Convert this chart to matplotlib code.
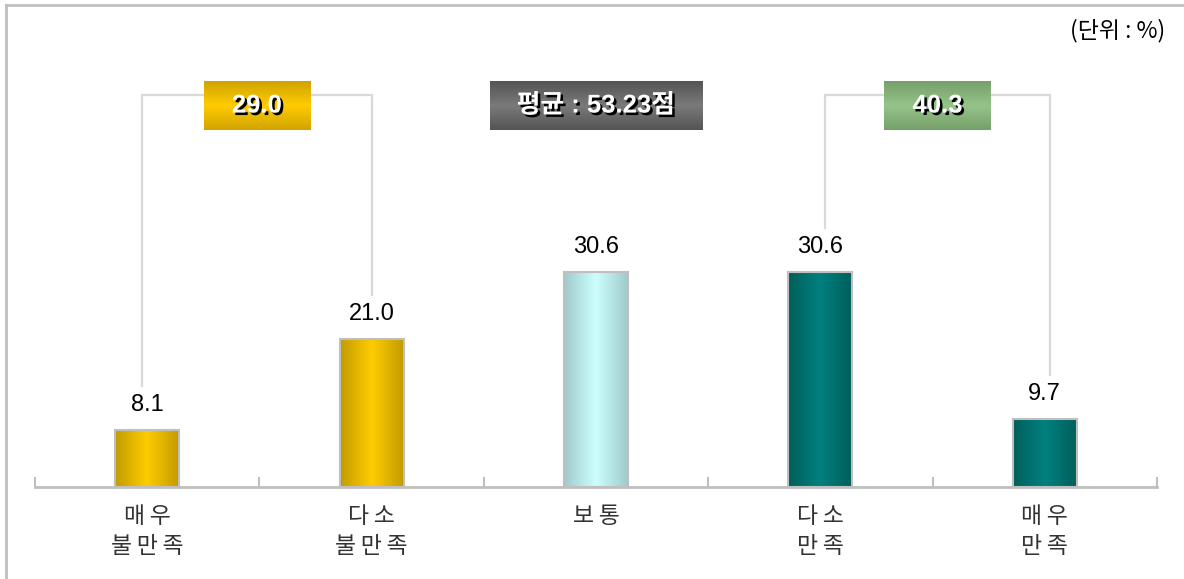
import numpy as np
import matplotlib
matplotlib.use("Agg")
import matplotlib.pyplot as plt
from matplotlib.colors import LinearSegmentedColormap
from matplotlib.lines import Line2D
import matplotlib.patheffects as pe

plt.rcParams['font.family'] = ['Liberation Sans', 'Noto Sans CJK KR', 'DejaVu Sans']

# Satisfaction distribution (%)
categories = ["매우\n불만족", "다소\n불만족", "보통", "다소\n만족", "매우\n만족"]
values = [8.1, 21.0, 30.6, 30.6, 9.7]

# Grouped totals: (first bar, last bar, total)
group_totals = [(0, 1, 29.0), (3, 4, 40.3)]
average_score = 53.23
unit_label = "(단위 : %)"

# Bar gradient colours: edge shade, centre highlight
bar_edge_colors = ['#c29b00', '#c29b00', '#9fcaca', '#005f5a', '#005f5a']
bar_mid_colors = ['#ffcc00', '#ffcc00', '#ccffff', '#008080', '#008080']

# Box gradient colours: rim shade, centre highlight
group_box_colors = [('#d0a300', '#ffcc00'), ('#769f69', '#95c489')]
avg_box_colors = ('#545454', '#7a7a7a')

W, H = 1184, 579
fig = plt.figure(figsize=(W / 100, H / 100), dpi=100)
px_per_unit = 7.03
ax = fig.add_axes([35 / W, 92 / H, 1122 / W, 477 / H])
ymax = 477 / px_per_unit
px_x = 1 / 224.4  # one pixel in x data units

x = np.arange(len(values))
bars = ax.bar(x, values, width=0.285, facecolor='none', edgecolor='#bfbfbf',
              linewidth=1.5, zorder=4)

# horizontal metallic gradient inside each bar
hgrad = np.linspace(0, 1, 256)[None, :]
for rect, c0, c1 in zip(bars, bar_edge_colors, bar_mid_colors):
    cmap = LinearSegmentedColormap.from_list('bar', [c0, c1, c0])
    x0 = rect.get_x()
    ax.imshow(hgrad, cmap=cmap, aspect='auto', interpolation='bicubic',
              extent=[x0, x0 + rect.get_width(), 0, rect.get_height()], zorder=3)

# value labels
for xi, v in zip(x, values):
    ax.text(xi, v + 2.7, f"{v:.1f}", ha='center', va='baseline',
            fontsize=17, color='black', zorder=5)

# brackets joining grouped bars
bracket_y = (487 - 95) / px_per_unit
box_h = 49 / px_per_unit
vgrad = np.linspace(0, 1, 256)[:, None]
shadow = [pe.SimplePatchShadow(offset=(1.8, -1.8), shadow_rgbFace='black', alpha=1.0),
          pe.Normal()]


def gradient_box(cx, cy, width, colors, text):
    cmap = LinearSegmentedColormap.from_list('box', [colors[0], colors[1], colors[0]])
    ax.imshow(vgrad, cmap=cmap, aspect='auto', interpolation='bicubic',
              extent=[cx - width / 2, cx + width / 2, cy - box_h / 2, cy + box_h / 2],
              zorder=6)
    ax.text(cx, cy, text, ha='center', va='center', fontsize=18.5, fontweight='bold',
            color='white', path_effects=shadow, zorder=7)


bracket_shift = [(-5, 0), (5, 5)]
for (a, b, total), cols, (sa, sb) in zip(group_totals, group_box_colors, bracket_shift):
    xa, xb = x[a] + sa * px_x, x[b] + sb * px_x
    ax.plot([xa, xa, xb, xb],
            [values[a] + 6.3, bracket_y, bracket_y, values[b] + 6.3],
            color='#d9d9d9', lw=1.6, zorder=2, solid_joinstyle='miter')
    gradient_box((xa + xb) / 2, bracket_y - 1.5, 0.475, cols, f"{total:.1f}")

gradient_box(2.0, bracket_y - 1.5, 0.945, avg_box_colors, f"평균 : {average_score:.2f}점")

ax.set_xlim(-0.5, len(values) - 0.5)
ax.set_ylim(0, ymax)


def spaced(label):
    # open up the Hangul letters a little with thin spaces
    return "\n".join("\u2009".join(line) for line in label.split("\n"))


# axes styling
for side in ['top', 'right', 'left']:
    ax.spines[side].set_visible(False)
ax.spines['bottom'].set_color('#bfbfbf')
ax.spines['bottom'].set_linewidth(2)
ax.set_yticks([])
ax.set_xticks(x)
ax.set_xticklabels([spaced(c) for c in categories], fontsize=16.5, color='#333333',
                   linespacing=1.4, family=['Noto Sans CJK KR', 'DejaVu Sans'])
ax.tick_params(axis='x', which='major', length=0, pad=13)
ax.set_xticks(np.arange(-0.5, len(values), 1), minor=True)
ax.tick_params(axis='x', which='minor', direction='in', length=7, width=1.5,
               color='#bfbfbf')

fig.text(1165 / W, 1 - 31 / H, unit_label, ha='right', va='center', fontsize=16.5,
         color='black', family=['Noto Sans CJK KR', 'DejaVu Sans'])

# outer frame (top and left edges)
fig.add_artist(Line2D([6 / W, 1.0], [1 - 5 / H, 1 - 5 / H], transform=fig.transFigure,
                      color='#bfbfbf', lw=2))
fig.add_artist(Line2D([6 / W, 6 / W], [0.0, 1 - 5 / H], transform=fig.transFigure,
                      color='#bfbfbf', lw=2))

fig.savefig("out.png", dpi=100, facecolor='white')
